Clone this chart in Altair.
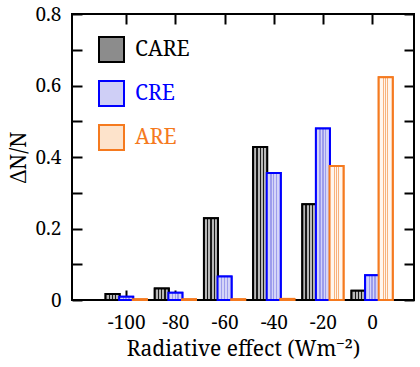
import altair as alt
import pandas as pd

categories = [-100, -80, -60, -40, -20, 0]
series_names = ["CARE", "CRE", "ARE"]
care = [0.017, 0.032, 0.229, 0.428, 0.268, 0.026]
cre = [0.009, 0.020, 0.066, 0.355, 0.480, 0.069]
are = [0.002, 0.002, 0.002, 0.003, 0.375, 0.623]
y_ticks = [0, 0.1, 0.2, 0.3, 0.4, 0.5, 0.6, 0.7, 0.8]

rows = []
for s_i, (name, vals) in enumerate(zip(series_names, [care, cre, are])):
    for c, v in zip(categories, vals):
        rows.append({"effect": c, "series": name, "order": s_i, "value": v})
df = pd.DataFrame(rows)

FONT = "Noto Serif"
stroke_colors = ["#000000", "#0000ff", "#f57a1f"]
fill_colors = ["#8c8c8c", "#cfcff6", "#fde3cb"]


def stripes(bg, line, centers, half):
    stops = [{"offset": 0, "color": bg}]
    for c in centers:
        stops += [{"offset": c - half, "color": bg}, {"offset": c - half, "color": line},
                  {"offset": c + half, "color": line}, {"offset": c + half, "color": bg}]
    stops.append({"offset": 1, "color": bg})
    return {"gradient": "linear", "x1": 0, "x2": 1, "y1": 0, "y2": 0, "stops": stops}


grad_care = stripes("#b8b8b8", "#1a1a1a", [0.27, 0.5, 0.73], 0.045)
grad_cre = stripes("#d4d4f8", "#9c9cec", [0.3, 0.5, 0.7], 0.05)
grad_are = stripes("#fff6ee", "#f8b27c", [0.35, 0.5, 0.65], 0.04)

x_scale = alt.Scale(domain=[-120, 15], nice=False, zero=False)
y_scale = alt.Scale(domain=[0, 0.8], nice=False)

legend = alt.Legend(
    orient="none", legendX=26, legendY=22, title=None, padding=0,
    symbolType="square", symbolSize=625, symbolStrokeWidth=2,
    labelFont=FONT, labelFontSize=21, labelOffset=10, rowPadding=11,
    labelColor={"expr": "datum.value == 'CARE' ? '#000000' : (datum.value == 'CRE' ? '#0000ff' : '#f57a1f')"},
)

common_axis = dict(domain=False, grid=False, tickSize=10, tickWidth=2, tickColor="black",
                   labelFont=FONT, labelFontSize=19, labelColor="black",
                   titleFont=FONT, titleFontSize=21, titleFontWeight="normal", titleColor="black")

base = alt.Chart(df).transform_calculate(
    xpos="datum.effect + (datum.order - 1) * 5.53"
)

x_enc = alt.X("xpos:Q", scale=x_scale,
              axis=alt.Axis(values=categories, orient="bottom", offset=-10,
                            title="Radiative effect (Wm⁻²)", labelPadding=13, titlePadding=6,
                            labelExpr="toString(datum.value)",
                            **common_axis))
y_enc = alt.Y("value:Q", scale=y_scale,
              axis=alt.Axis(values=y_ticks, orient="left", offset=-10, title="ΔN/N",
                            labelPadding=11, titlePadding=6,
                            labelExpr="round(datum.value*10) % 2 == 0 ? (datum.value == 0 ? '0' : format(datum.value, '.1f')) : ''",
                            **common_axis))
stroke_enc = alt.Stroke("series:N", scale=alt.Scale(domain=series_names, range=stroke_colors), legend=legend)

bars = base.mark_bar(size=14, strokeWidth=2, opacity=1).encode(
    x=x_enc,
    y=y_enc,
    fill=alt.Fill("series:N", scale=alt.Scale(domain=series_names, range=fill_colors), legend=legend),
    stroke=stroke_enc,
)

pattern = base.mark_bar(size=14, strokeWidth=2, opacity=1).encode(
    x=alt.X("xpos:Q", axis=None),
    y=alt.Y("value:Q", axis=None),
    fill={"condition": [{"test": "datum.series == 'CARE'", "value": grad_care},
                        {"test": "datum.series == 'CRE'", "value": grad_cre}],
          "value": grad_are},
    stroke=stroke_enc,
)

frame_axes = base.mark_bar(size=14, opacity=0).encode(
    x=alt.X("xpos:Q", scale=x_scale,
            axis=alt.Axis(values=categories, orient="top", offset=-10, labels=False, title=None,
                          domain=False, grid=False, tickSize=10, tickWidth=2, tickColor="black")),
    y=alt.Y("value:Q", scale=y_scale,
            axis=alt.Axis(values=y_ticks, orient="right", offset=-10, labels=False, title=None,
                          domain=False, grid=False, tickSize=10, tickWidth=2, tickColor="black")),
)

chart = alt.layer(bars, pattern, frame_axes).resolve_axis(x="independent", y="independent").properties(
    width=342, height=286,
    autosize=alt.AutoSizeParams(type="none"),
    padding={"left": 72, "top": 14, "right": 6, "bottom": 67},
    background="white",
).configure(font=FONT).configure_view(stroke="black", strokeWidth=2)

chart.save("out.html", embed_options={"renderer": "svg", "actions": False})
